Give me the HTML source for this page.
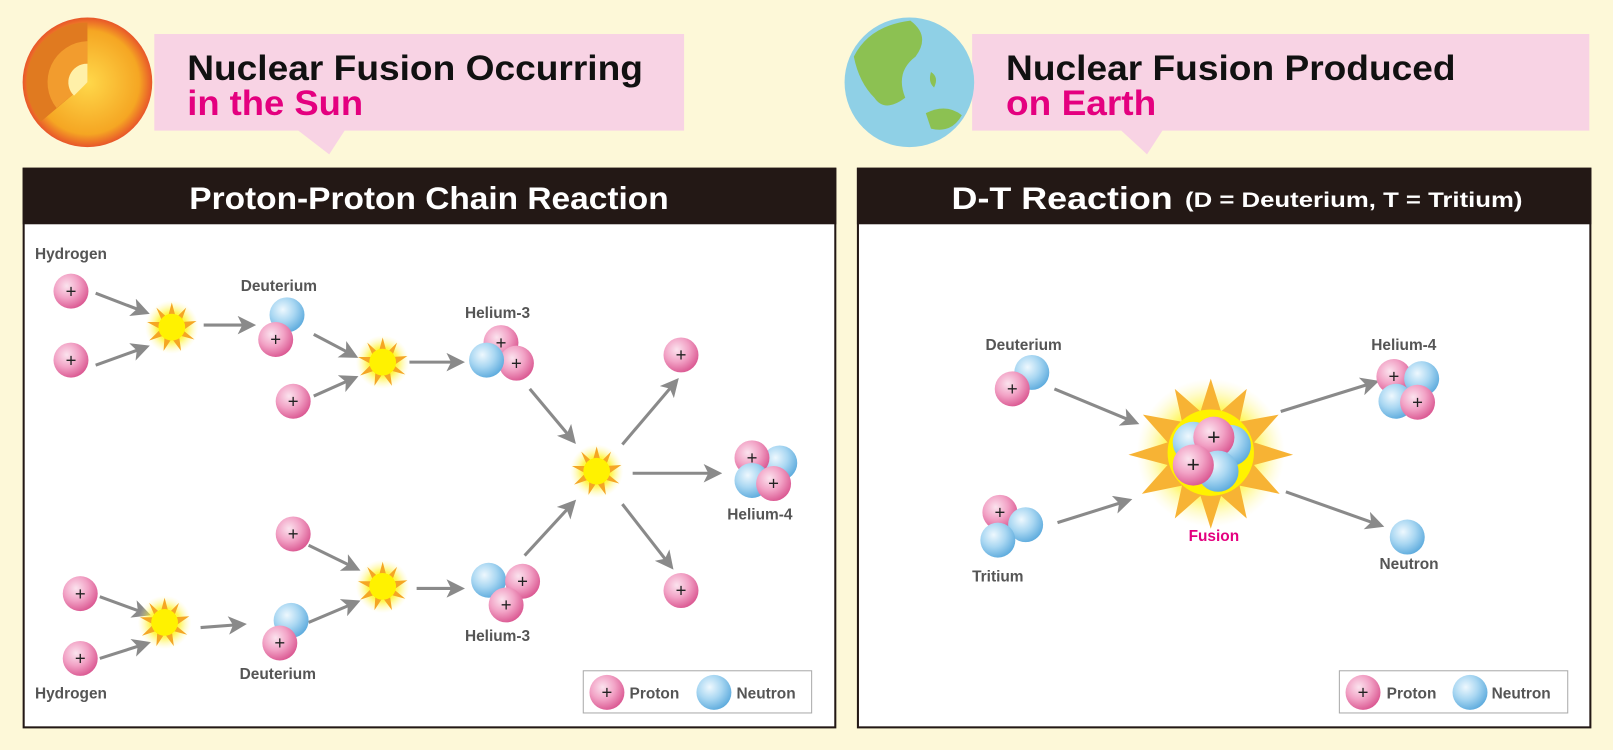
<!DOCTYPE html>
<html><head><meta charset="utf-8"><style>
html,body{margin:0;padding:0;background:#fdf8d8;}
svg{display:block;}
text{font-family:"Liberation Sans",sans-serif;font-weight:bold;}
</style></head><body>
<svg width="1613" height="750" viewBox="0 0 1568 729" preserveAspectRatio="none" xmlns="http://www.w3.org/2000/svg">
<defs>
<radialGradient id="pg" cx="0.38" cy="0.35" r="0.7"><stop offset="0" stop-color="#fbe3ee"/><stop offset="0.5" stop-color="#f2a3c6"/><stop offset="1" stop-color="#d9548f"/></radialGradient>
<radialGradient id="ng" cx="0.38" cy="0.35" r="0.7"><stop offset="0" stop-color="#eef8fe"/><stop offset="0.5" stop-color="#a9d7f2"/><stop offset="1" stop-color="#5aa9dc"/></radialGradient>
<radialGradient id="sun" cx="0.5" cy="0.5" r="0.5"><stop offset="0" stop-color="#ffd84a"/><stop offset="0.8" stop-color="#f5a623"/><stop offset="1" stop-color="#e8562a"/></radialGradient>
<radialGradient id="glow" cx="0.5" cy="0.5" r="0.5"><stop offset="0" stop-color="#fff200"/><stop offset="0.55" stop-color="#fff200"/><stop offset="1" stop-color="#fff6a0" stop-opacity="0"/></radialGradient>
<marker id="ah" markerWidth="6" markerHeight="6" refX="4" refY="3" orient="auto" markerUnits="strokeWidth"><path d="M0,0 L6,3 L0,6 L1.5,3 z" fill="#8a8a8a"/></marker>
<g id="P"><circle r="17" fill="url(#pg)"/><text y="6" text-anchor="middle" font-size="18" fill="#222" style="font-weight:normal">+</text></g>
<g id="N"><circle r="17" fill="url(#ng)"/></g>
<g id="P2"><circle r="20" fill="url(#pg)"/><text y="7" text-anchor="middle" font-size="22" fill="#222" style="font-weight:normal">+</text></g>
<g id="N2"><circle r="20" fill="url(#ng)"/></g>
<g id="B"><circle r="26" fill="url(#glow)" opacity="0.7"/>
<polygon fill="#f5a623" points="0,-24 4,-9 14,-19 9,-5 24,-6 11,3 22,12 7,8 9,23 0,11 -8,23 -7,8 -22,13 -11,2 -24,-5 -9,-5 -15,-19 -4,-9"/>
<circle r="13" fill="#fff200"/></g>
</defs>
<rect width="1568" height="729" fill="#fdf8d8"/>
<!-- left banner -->
<path d="M150,33 H665 V127 H335 L320,150 L290,127 H150 z" fill="#f8d3e4"/>
<circle cx="85" cy="80" r="63" fill="url(#sun)"/>
<path d="M85,80 L85,22 A58,58 0 0,0 40,118 z" fill="#e07a20"/>
<path d="M85,80 L85,40 A40,40 0 0,0 55,105 z" fill="#f29c2e"/>
<path d="M85,80 L85,62 A18,18 0 0,0 72,93 z" fill="#fff0a8"/>
<text x="182" y="78" font-size="34" fill="#111" textLength="443" lengthAdjust="spacingAndGlyphs">Nuclear Fusion Occurring</text>
<text x="182" y="112" font-size="34" fill="#e4007f" textLength="171" lengthAdjust="spacingAndGlyphs">in the Sun</text>
<!-- right banner -->
<path d="M945,33 H1545 V127 H1130 L1115,150 L1090,127 H945 z" fill="#f8d3e4"/>
<circle cx="884" cy="80" r="63" fill="#8fd0e6"/>
<path d="M830,55 Q845,25 885,20 Q905,35 890,55 Q870,70 880,95 Q860,110 850,95 Q835,80 830,55z" fill="#8cc152"/>
<path d="M900,110 Q920,100 935,112 Q925,130 905,125z" fill="#8cc152"/>
<path d="M905,70 q8,5 3,15 q-6,-5 -3,-15z" fill="#8cc152"/>
<text x="978" y="78" font-size="34" fill="#111" textLength="437" lengthAdjust="spacingAndGlyphs">Nuclear Fusion Produced</text>
<text x="978" y="112" font-size="34" fill="#e4007f" textLength="146" lengthAdjust="spacingAndGlyphs">on Earth</text>
<!-- panels -->
<rect x="23" y="164" width="789" height="543" fill="#fff" stroke="#231815" stroke-width="2"/>
<rect x="22" y="163" width="791" height="55" fill="#231815"/>
<text x="184" y="203" font-size="31" fill="#fff" textLength="466" lengthAdjust="spacingAndGlyphs">Proton-Proton Chain Reaction</text>
<rect x="834" y="164" width="712" height="543" fill="#fff" stroke="#231815" stroke-width="2"/>
<rect x="833" y="163" width="714" height="55" fill="#231815"/>
<text x="925" y="203" font-size="31" fill="#fff" textLength="215" lengthAdjust="spacingAndGlyphs">D-T Reaction</text>
<text x="1152" y="201" font-size="21" fill="#fff" textLength="328" lengthAdjust="spacingAndGlyphs">(D = Deuterium, T = Tritium)</text>
<!-- arrows -->
<g stroke="#8a8a8a" stroke-width="3" fill="none" marker-end="url(#ah)">
<line x1="93" y1="285" x2="140" y2="303"/><line x1="93" y1="355" x2="140" y2="338"/>
<line x1="198" y1="316" x2="243" y2="316"/>
<line x1="305" y1="325" x2="343" y2="345"/><line x1="305" y1="385" x2="343" y2="368"/>
<line x1="398" y1="352" x2="446" y2="352"/>
<line x1="515" y1="378" x2="556" y2="427"/><line x1="510" y1="540" x2="556" y2="490"/>
<line x1="605" y1="432" x2="656" y2="372"/><line x1="615" y1="460" x2="696" y2="460"/>
<line x1="605" y1="490" x2="651" y2="549"/>
<line x1="300" y1="530" x2="345" y2="552"/><line x1="300" y1="605" x2="345" y2="586"/>
<line x1="405" y1="572" x2="446" y2="572"/>
<line x1="97" y1="580" x2="141" y2="596"/><line x1="97" y1="640" x2="141" y2="626"/>
<line x1="195" y1="610" x2="234" y2="607"/>
<line x1="1025" y1="378" x2="1102" y2="410"/><line x1="1028" y1="508" x2="1095" y2="487"/>
<line x1="1245" y1="400" x2="1335" y2="372"/><line x1="1250" y1="478" x2="1340" y2="510"/>
</g>
<!-- bursts -->
<use href="#B" x="167" y="318"/><use href="#B" x="372" y="352"/><use href="#B" x="580" y="458"/>
<use href="#B" x="372" y="570"/><use href="#B" x="160" y="605"/>
<!-- left particles -->
<use href="#P" x="69" y="283"/><use href="#P" x="69" y="350"/><use href="#P" x="285" y="390"/>
<use href="#P" x="285" y="519"/><use href="#P" x="78" y="577"/><use href="#P" x="78" y="640"/>
<use href="#P" x="662" y="345"/><use href="#P" x="662" y="574"/>
<use href="#N" x="279" y="306"/><use href="#P" x="268" y="330"/>
<use href="#N" x="283" y="603"/><use href="#P" x="272" y="625"/>
<use href="#P" x="487" y="333"/><use href="#P" x="502" y="353"/><use href="#N" x="473" y="350"/>
<use href="#N" x="475" y="564"/><use href="#P" x="508" y="565"/><use href="#P" x="492" y="588"/>
<use href="#N" x="758" y="450"/><use href="#P" x="731" y="445"/><use href="#N" x="731" y="467"/><use href="#P" x="752" y="470"/>
<g font-size="15" fill="#555">
<text x="34" y="252">Hydrogen</text><text x="34" y="679">Hydrogen</text>
<text x="234" y="283">Deuterium</text><text x="233" y="660">Deuterium</text>
<text x="452" y="309">Helium-3</text><text x="452" y="623">Helium-3</text>
<text x="707" y="505">Helium-4</text>
<text x="958" y="340">Deuterium</text><text x="945" y="565">Tritium</text>
<text x="1333" y="340">Helium-4</text><text x="1341" y="553">Neutron</text>
</g>
<!-- right -->
<g transform="translate(1177,440)">
<circle r="72" fill="url(#glow)" opacity="0.8"/>
<polygon fill="#f7b334" points="0,-72 10,-40 35,-62 28,-30 66,-37 42,-10 80,2 42,12 67,40 28,32 35,64 10,42 0,74 -10,42 -35,64 -28,32 -67,40 -42,12 -80,2 -42,-10 -66,-37 -28,-30 -35,-62 -10,-40"/>
<circle r="42" fill="#fff200"/>
</g>
<use href="#N2" x="1160" y="430"/><use href="#N2" x="1196" y="433"/><use href="#P2" x="1180" y="425"/>
<use href="#N2" x="1184" y="458"/><use href="#P2" x="1160" y="452"/>
<text x="1180" y="526" font-size="15" fill="#e4007f" text-anchor="middle">Fusion</text>
<use href="#N" x="1003" y="362"/><use href="#P" x="984" y="378"/>
<use href="#P" x="972" y="498"/><use href="#N" x="997" y="510"/><use href="#N" x="970" y="525"/>
<use href="#P" x="1355" y="366"/><use href="#N" x="1382" y="368"/><use href="#N" x="1357" y="390"/><use href="#P" x="1378" y="391"/>
<use href="#N" x="1368" y="522"/>
<!-- legends -->
<rect x="567" y="652" width="222" height="41" fill="#fff" stroke="#aaa" stroke-width="1"/>
<use href="#P" x="590" y="673"/><text x="612" y="679" font-size="15" fill="#555">Proton</text>
<use href="#N" x="694" y="673"/><text x="716" y="679" font-size="15" fill="#555">Neutron</text>
<rect x="1302" y="652" width="222" height="41" fill="#fff" stroke="#aaa" stroke-width="1"/>
<use href="#P" x="1325" y="673"/><text x="1348" y="679" font-size="15" fill="#555">Proton</text>
<use href="#N" x="1429" y="673"/><text x="1450" y="679" font-size="15" fill="#555">Neutron</text>
</svg>
</body></html>
